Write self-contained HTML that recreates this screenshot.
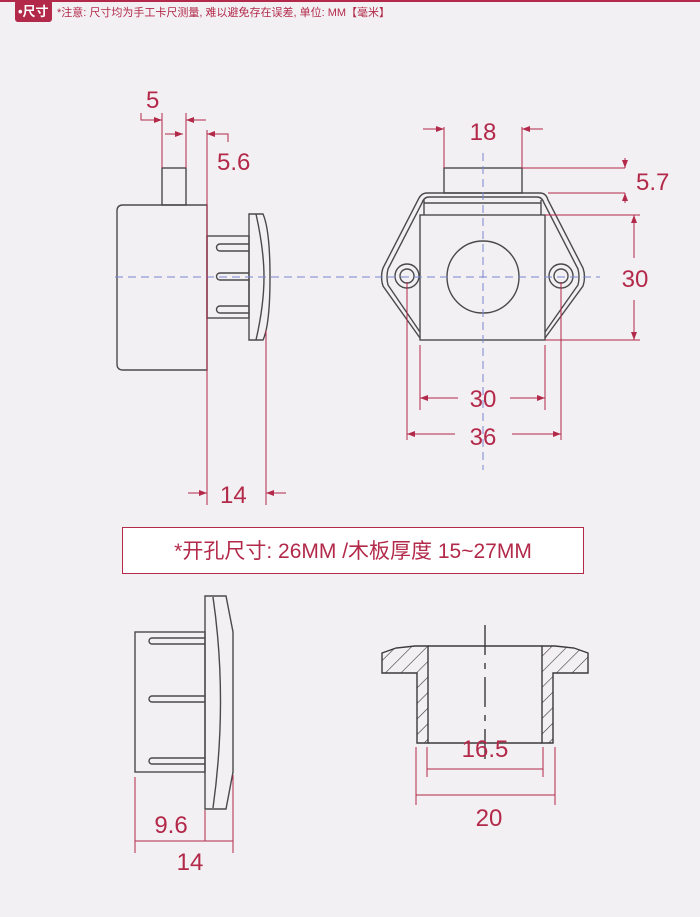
<!DOCTYPE html>
<html><head><meta charset="utf-8"><style>
body{margin:0;background:#f3f0f3;}
svg{display:block}
text{font-family:"Liberation Sans","Noto Sans CJK SC",sans-serif;fill:#b3294a}
</style></head><body>
<svg width="700" height="917" viewBox="0 0 700 917" xmlns="http://www.w3.org/2000/svg">
<defs>
<pattern id="h" width="11" height="11" patternUnits="userSpaceOnUse" patternTransform="rotate(45)">
<line x1="0" y1="0" x2="0" y2="11" stroke="#333" stroke-width="1.2"/>
</pattern>
<marker id="a" markerWidth="8" markerHeight="6" refX="8" refY="3" orient="auto" markerUnits="userSpaceOnUse"><path d="M0,0 L8,3 L0,6 Z" fill="#b3294a"/></marker>
</defs>
<rect width="700" height="917" fill="#f3f0f3"/>
<rect x="0" y="0" width="700" height="2" fill="#b3294a"/>
<rect x="15" y="0" width="37" height="22" rx="3" fill="#b3294a"/>
<text x="18" y="16" font-size="13" font-weight="bold" style="fill:#fff">•尺寸</text>
<text x="57" y="16" font-size="11">*注意: 尺寸均为手工卡尺测量, 难以避免存在误差, 单位: MM【毫米】</text>

<g stroke="#4a4a4a" stroke-width="1.4" fill="none">
<!-- left view -->
<path d="M123,205 H207 V370 H123 Q117,370 117,364 V211 Q117,205 123,205 Z"/>
<rect x="162" y="168" width="24" height="37"/>
<rect x="207" y="236" width="42" height="82"/>
<path d="M249,244 H220 A3.5,3.5 0 0 0 220,251 H249 M249,273 H220 A3.5,3.5 0 0 0 220,280 H249 M249,306 H220 A3.5,3.5 0 0 0 220,313 H249"/>
<path d="M249,214 H263 Q270,230 270,277 Q270,325 263,340 H249 Z"/>
<path d="M256,214 Q264,250 264,277 Q264,305 256,340"/>
<!-- right view -->
<rect x="444" y="168" width="78" height="25"/>
<rect x="420" y="215" width="125" height="125"/>
<path d="M427,193 H540 Q546,193 548,200 L583,268 Q586,277 583,286 L545,338 M420,338 L383,286 Q380,277 383,268 L418,200 Q421,193 427,193"/>
<path d="M429,197 H537 Q542,197 544,203 L578,269 Q580,277 578,285 L545,332 M420,332 L388,285 Q386,277 388,269 L422,203 Q424,197 429,197"/>
<path d="M424,200 V215 M541,200 V215 M424,203 H541"/>
<circle cx="407" cy="276" r="12"/><circle cx="407" cy="276" r="7"/>
<circle cx="561" cy="276" r="12"/><circle cx="561" cy="276" r="7"/>
<circle cx="483" cy="277" r="36"/>
<!-- bottom left -->
<rect x="135" y="632" width="70" height="140"/>
<path d="M205,638 H152 A3,3 0 0 0 152,644 H205 M205,696 H152 A3,3 0 0 0 152,702 H205 M205,758 H152 A3,3 0 0 0 152,764 H205"/>
<path d="M205,596 H226 L233,632 V772 L226,809 H205 Z"/>
<path d="M213,597 Q228,700 213,808"/>
</g>
<!-- bottom right section -->
<g stroke="#3a3a3a" stroke-width="1.4">
<path d="M382,653 L396,648 L415,646 L428,646 L428,743 L417,743 L417,673 L382,673 Z" fill="url(#h)"/>
<path d="M588,653 L574,648 L555,646 L542,646 L542,743 L553,743 L553,673 L588,673 Z" fill="url(#h)"/>
<line x1="428" y1="646" x2="542" y2="646"/>
<line x1="428" y1="743" x2="542" y2="743"/>
<line x1="485" y1="625" x2="485" y2="765" stroke-dasharray="30,8,6,8"/>
</g>
<!-- centerlines -->
<g stroke="#7b86d0" stroke-width="1" stroke-dasharray="8,5" fill="none">
<line x1="115" y1="277" x2="600" y2="277"/>
<line x1="483" y1="153" x2="483" y2="470"/>
</g>
<!-- dimensions -->
<g stroke="#b3294a" stroke-width="1" fill="none">
<path d="M141,113 V120 H162" marker-end="url(#a)"/>
<path d="M206,120 H186" marker-end="url(#a)"/>
<path d="M165,134 H183" marker-end="url(#a)"/>
<line x1="162" y1="113" x2="162" y2="168"/><line x1="186" y1="113" x2="186" y2="168"/>
<line x1="207" y1="130" x2="207" y2="505"/><line x1="266" y1="330" x2="266" y2="505"/>
<path d="M228,142 V134 H207" marker-end="url(#a)"/>
<path d="M188,493 H207" marker-end="url(#a)"/><path d="M286,493 H266" marker-end="url(#a)"/>
<line x1="444" y1="127" x2="444" y2="168"/><line x1="522" y1="127" x2="522" y2="168"/>
<path d="M423,129 H444" marker-end="url(#a)"/><path d="M543,129 H522" marker-end="url(#a)"/>
<line x1="522" y1="168" x2="625" y2="168"/><line x1="548" y1="193" x2="625" y2="193"/>
<path d="M625,158 V168" marker-end="url(#a)"/><path d="M625,203 V193" marker-end="url(#a)"/>
<line x1="545" y1="215" x2="640" y2="215"/><line x1="545" y1="340" x2="640" y2="340"/>
<path d="M634,258 V215" marker-end="url(#a)"/><path d="M634,300 V340" marker-end="url(#a)"/>
<line x1="420" y1="345" x2="420" y2="410"/><line x1="545" y1="345" x2="545" y2="410"/>
<path d="M458,398 H420" marker-end="url(#a)"/><path d="M510,398 H545" marker-end="url(#a)"/>
<line x1="407" y1="282" x2="407" y2="440"/><line x1="561" y1="282" x2="561" y2="440"/>
<path d="M455,434 H407" marker-end="url(#a)"/><path d="M512,434 H561" marker-end="url(#a)"/>
<line x1="135" y1="777" x2="135" y2="853"/><line x1="205" y1="810" x2="205" y2="841"/><line x1="233" y1="775" x2="233" y2="853"/>
<line x1="135" y1="841" x2="233" y2="841"/>
<line x1="427" y1="747" x2="427" y2="777"/><line x1="543" y1="747" x2="543" y2="777"/><line x1="427" y1="769" x2="543" y2="769"/>
<line x1="416" y1="747" x2="416" y2="805"/><line x1="555" y1="747" x2="555" y2="805"/><line x1="416" y1="795" x2="555" y2="795"/>
</g>
<g font-size="24">
<text x="146" y="108">5</text>
<text x="217" y="170">5.6</text>
<text x="220" y="503">14</text>
<text x="483" y="140" text-anchor="middle">18</text>
<text x="636" y="190">5.7</text>
<text x="635" y="287" text-anchor="middle">30</text>
<text x="483" y="407" text-anchor="middle">30</text>
<text x="483" y="445" text-anchor="middle">36</text>
<text x="171" y="833" text-anchor="middle">9.6</text>
<text x="190" y="870" text-anchor="middle">14</text>
<text x="485" y="757" text-anchor="middle">16.5</text>
<text x="489" y="826" text-anchor="middle">20</text>
</g>
<rect x="122.5" y="527.5" width="461" height="46" fill="#fff" stroke="#b3294a"/>
<text x="353" y="558" font-size="21" text-anchor="middle">*开孔尺寸: 26MM /木板厚度 15~27MM</text>
</svg>
</body></html>
